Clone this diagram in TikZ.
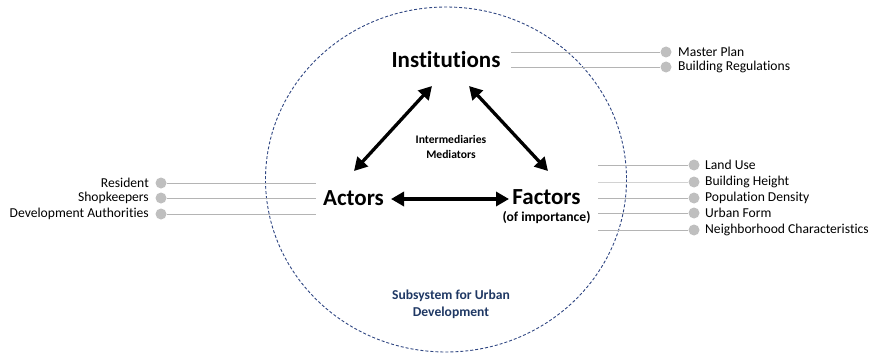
\documentclass[tikz,border=0pt]{standalone}
\usepackage{fontspec}
\setmainfont[Ligatures=NoCommon]{Carlito}
\usetikzlibrary{arrows.meta}
\definecolor{dotgray}{RGB}{191,191,191}
\definecolor{linegray}{RGB}{180,180,180}
\definecolor{navy}{RGB}{47,70,130}
\definecolor{navytext}{RGB}{31,56,100}
\tikzset{
  dot/.style={circle,fill=dotgray,draw=none,minimum size=11pt,inner sep=0pt},
  lbl/.style={font=\fontsize{13.6}{15}\selectfont,inner sep=0pt},
  conn/.style={draw=linegray,line width=0.9pt},
  big/.style={font=\fontsize{23}{26}\selectfont\bfseries,inner sep=0pt},
  dbl/.style={line width=3.3pt,{Triangle[length=13pt,width=14pt]}-{Triangle[length=13pt,width=14pt]}},
}
\begin{document}
\begin{tikzpicture}[x=1pt,y=-1pt]
\useasboundingbox (0,0) rectangle (875,353);
% circle
\draw[navy,dash pattern=on 3pt off 2pt,line width=0.9pt] (446,179.5) ellipse [x radius=180.5,y radius=172.5];
% central nodes
\node[big] (inst) at (446,60) {Institutions};
\node[big] (act) at (353.5,198) {Actors};
\node[big] (fac) at (546.5,197) {Factors};
\node[font=\fontsize{13.6}{15}\selectfont\bfseries,inner sep=0pt] (imp) at (546.5,218) {(of importance)};
\node[font=\fontsize{11.6}{14.5}\selectfont\bfseries,inner sep=0pt,align=center] (mid) at (451,147) {Intermediaries\\Mediators};
\node[font=\fontsize{13.6}{17}\selectfont\bfseries,text=navytext,align=center,inner sep=0pt] (sub) at (451,304.5) {Subsystem for Urban\\Development};
% arrows
\coordinate (a1s) at (354,171);
\coordinate (a1e) at (432,86);
\coordinate (a2s) at (469,86);
\coordinate (a2e) at (548,171);
\coordinate (a3s) at (391,199);
\coordinate (a3e) at (509,199);
\draw[dbl] (a1s) -- (a1e);
\draw[dbl] (a2s) -- (a2e);
\draw[dbl] (a3s) -- (a3e);
% top right
\coordinate (m1) at (511,52);
\coordinate (m2) at (511,67);
\node[dot] (dm1) at (666,52) {};
\node[dot] (dm2) at (666,67) {};
\draw[conn] (m1) -- (dm1);
\draw[conn] (m2) -- (dm2);
\node[lbl,anchor=west] (tm1) at (678,52) {Master Plan};
\node[lbl,anchor=west] (tm2) at (678,67) {Building Regulations};
% right factors
\foreach \y/\n/\t/\c in {165/f1/Land Use/linegray,182/f2/Building Height/dotgray!70,198/f3/Population Density/linegray,213/f4/Urban Form/linegray,230/f5/Neighborhood Characteristics/linegray}{
  \coordinate (c\n) at (598,\y);
  \node[dot] (d\n) at (694,\y) {};
  \draw[conn,draw=\c] (c\n) -- (d\n);
  \node[lbl,anchor=west] (t\n) at (705,\y) {\t};
}
% left actors
\foreach \y/\n/\t in {183/r1/Resident,198/r2/Shopkeepers,214/r3/Development Authorities}{
  \coordinate (c\n) at (316,\y);
  \node[dot] (d\n) at (161,\y) {};
  \draw[conn] (d\n) -- (c\n);
  \node[lbl,anchor=east] (t\n) at (149,\y) {\t};
}
\end{tikzpicture}
\end{document}
